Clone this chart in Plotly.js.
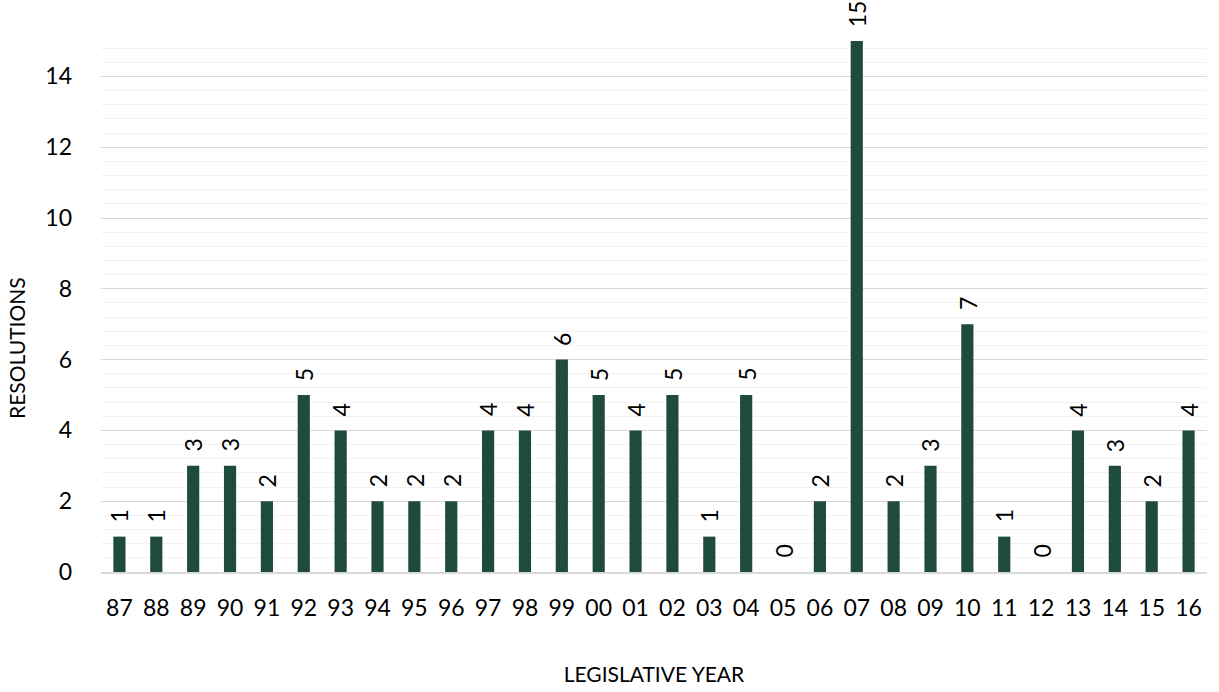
<!DOCTYPE html>
<html>
<head>
<meta charset="utf-8">
<script src="https://cdn.plot.ly/plotly-3.0.1.min.js"></script>
<style>html,body{margin:0;padding:0;background:#fff;}#chart{width:1219px;height:692px;}</style>
</head>
<body>
<div id="chart"></div>
<script>
const years = ["87","88","89","90","91","92","93","94","95","96","97","98","99","00","01","02","03","04","05","06","07","08","09","10","11","12","13","14","15","16"];
const resolutions = [1,1,3,3,2,5,4,2,2,2,4,4,6,5,4,5,1,5,0,2,15,2,3,7,1,0,4,3,2,4];
const xTitle = "LEGISLATIVE YEAR";
const yTitle = "RESOLUTIONS";

const font = "Lato, 'Open Sans', sans-serif";
const trace = {
  type: "bar",
  x: years,
  y: resolutions,
  marker: {color: "#1f4a3e"},
  cliponaxis: false,
  hoverinfo: "x+y"
};
// data labels: placed at each category index, above each bar value
const labelAnnotations = years.map((yr, i) => ({
  x: i, y: resolutions[i], xref: "x", yref: "y",
  text: String(resolutions[i]),
  textangle: -90, showarrow: false,
  xanchor: "center", yanchor: "bottom", yshift: 12,
  font: {family: font, size: 23, color: "#000"}
}));
const layout = {
  width: 1219, height: 692,
  margin: {l: 100.5, r: 11.5, t: 40.5, b: 120},
  paper_bgcolor: "#fff", plot_bgcolor: "#fff",
  showlegend: false,
  bargap: 0.67,
  font: {family: font, size: 23, color: "#000"},
  xaxis: {
    type: "category",
    categoryorder: "array", categoryarray: years,
    range: [-0.5, years.length - 0.5],
    showgrid: false,
    showline: true, linecolor: "#d9d9d9", linewidth: 2,
    ticks: "", tickfont: {family: font, size: 23, color: "#000"},
    ticklabelstandoff: 14,
    title: {text: xTitle, font: {family: font, size: 21, color: "#000"}, standoff: 48}
  },
  yaxis: {
    range: [0, 15],
    tickvals: [0,2,4,6,8,10,12,14],
    showgrid: true, gridcolor: "#d9d9d9", gridwidth: 1.3,
    minor: {dtick: 0.4, showgrid: true, gridcolor: "#f2f2f2", gridwidth: 1.3},
    zeroline: false, showline: false, ticks: "",
    tickfont: {family: font, size: 23, color: "#000"},
    ticklabelstandoff: 28
  },
  annotations: [{
    text: yTitle, xref: "paper", yref: "paper", x: 0, y: 0.421,
    xshift: -99, textangle: -90, showarrow: false,
    font: {family: font, size: 21, color: "#000"}
  }].concat(labelAnnotations)
};
Plotly.newPlot("chart", [trace], layout, {displayModeBar: false, responsive: false});
</script>
</body>
</html>
